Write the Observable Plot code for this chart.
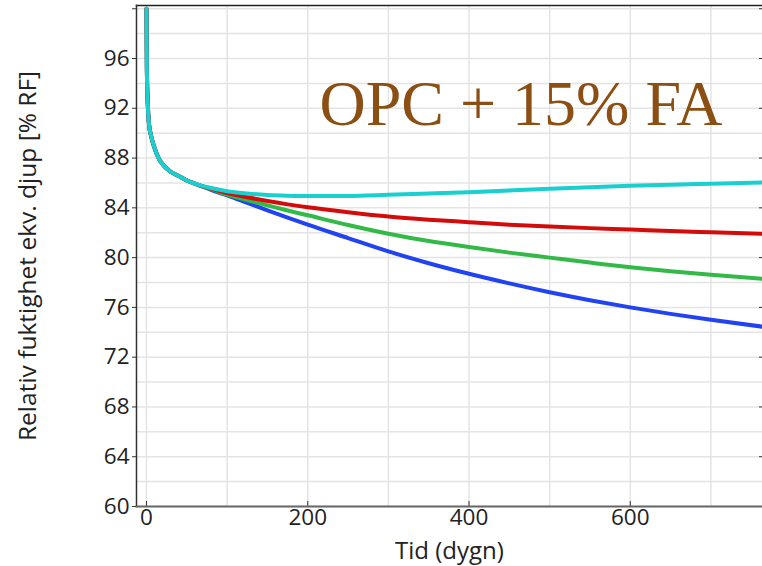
<!DOCTYPE html>
<html>
<head>
<meta charset="utf-8">
<script src="https://cdn.jsdelivr.net/npm/d3@7"></script>
<script src="https://cdn.jsdelivr.net/npm/@observablehq/plot@0.6"></script>
<style>
  html, body { margin: 0; padding: 0; background: #fff; }
  #chart { width: 762px; height: 566px; }
</style>
</head>
<body>
<div id="chart"></div>
<script>
// ---- data ----
const titleText = "OPC + 15% FA";
const xLabel = "Tid (dygn)";
const yLabel = "Relativ fuktighet ekv. djup [% RF]";

const days = [0, 0.5, 1.5, 3, 6, 10, 15, 20, 30, 40, 50, 60, 70, 80, 100, 125, 150, 175, 200, 250, 300, 350, 400, 450, 500, 550, 600, 650, 700, 764];

const cyanSeries  = [100, 95, 92.5, 90.8, 89.7, 88.8, 88.0, 87.5, 86.9, 86.55, 86.2, 85.95, 85.74, 85.6, 85.34, 85.16, 85.04, 84.98, 84.95, 84.96, 85.05, 85.15, 85.26, 85.4, 85.53, 85.65, 85.77, 85.86, 85.93, 86.03];
const redSeries   = [100, 95, 92.5, 90.8, 89.7, 88.8, 88.0, 87.5, 86.9, 86.55, 86.2, 85.95, 85.72, 85.55, 85.18, 84.85, 84.55, 84.28, 84.05, 83.65, 83.3, 83.05, 82.85, 82.65, 82.5, 82.37, 82.26, 82.14, 82.04, 81.91];
const greenSeries = [100, 95, 92.5, 90.8, 89.7, 88.8, 88.0, 87.5, 86.9, 86.55, 86.2, 85.95, 85.71, 85.5, 85.07, 84.62, 84.2, 83.79, 83.4, 82.62, 81.92, 81.33, 80.85, 80.4, 80.0, 79.6, 79.22, 78.9, 78.62, 78.3];
const blueSeries  = [100, 95, 92.5, 90.8, 89.7, 88.8, 88.0, 87.5, 86.9, 86.55, 86.2, 85.95, 85.7, 85.45, 85.0, 84.4, 83.8, 83.22, 82.65, 81.57, 80.5, 79.55, 78.7, 77.93, 77.22, 76.58, 76.0, 75.48, 75.0, 74.45];

const seriesNames = ["blå", "grön", "röd", "turkos"];
const seriesColors = ["#2143f2", "#33b947", "#d40b0b", "#19cfd0"];

const xDomain = [-12.4, 764];
const yDomain = [60, 100.26];
const xTicks = [0, 200, 400, 600];
const xGridTicks = [0, 100, 200, 300, 400, 500, 600, 700];
const yTicks = [60, 64, 68, 72, 76, 80, 84, 88, 92, 96, 100];
const yGridTicks = d3.range(60, 101, 2);

// ---- tidy table ----
const seriesValues = [blueSeries, greenSeries, redSeries, cyanSeries];
const rows = [];
seriesValues.forEach((vals, i) => {
  vals.forEach((v, j) => rows.push({series: seriesNames[i], t: days[j], rh: v}));
});

const chart = Plot.plot({
  width: 762,
  height: 566,
  marginLeft: 136,
  marginRight: 0,
  marginTop: 5,
  marginBottom: 60,
  style: {fontFamily: "'Open Sans', sans-serif", fontSize: "22px", color: "#222", background: "#fff"},
  x: {domain: xDomain},
  y: {domain: yDomain},
  color: {domain: seriesNames, range: seriesColors},
  marks: [
    Plot.gridX(xGridTicks, {stroke: "#e4e4e4", strokeOpacity: 1, strokeWidth: 1.5}),
    Plot.gridY(yGridTicks, {stroke: "#e4e4e4", strokeOpacity: 1, strokeWidth: 1.5}),
    Plot.axisY(yTicks, {anchor: "left", tickSize: 4, tickPadding: 3, stroke: "#333",
      tickFormat: d => d === 100 ? "" : d, label: null, fontSize: 22.5}),
    Plot.axisY({anchor: "left", ticks: [], label: yLabel, labelArrow: "none", labelAnchor: "center", labelOffset: 118, fontSize: 24.5}),
    Plot.axisY(yTicks, {anchor: "right", tickSize: -4, tickFormat: () => "", label: null, stroke: "#333"}),
    Plot.axisX(xTicks, {anchor: "bottom", tickSize: -5, tickPadding: 8, stroke: "#333", label: null, fontSize: 22.5}),
    Plot.axisX({anchor: "bottom", ticks: [], label: xLabel, labelArrow: "none", labelAnchor: "center", labelOffset: 52, fontSize: 24}),
    Plot.frame({anchor: "top", stroke: "#222", strokeWidth: 1.5}),
    Plot.frame({anchor: "left", stroke: "#333", strokeWidth: 1.5}),
    Plot.frame({anchor: "bottom", stroke: "#666", strokeWidth: 2}),
    Plot.line(rows, {x: "t", y: "rh", z: "series", stroke: "series", strokeWidth: 4, curve: "monotone-x"}),
    Plot.text([titleText], {frameAnchor: "top-left", dx: 183, dy: 74, text: d => d, textAnchor: "start", lineAnchor: "top",
      fontFamily: "'Liberation Serif', 'Times New Roman', serif", fontSize: 64, fill: "#8b4e13"})
  ]
});
document.getElementById("chart").appendChild(chart);
</script>
</body>
</html>
